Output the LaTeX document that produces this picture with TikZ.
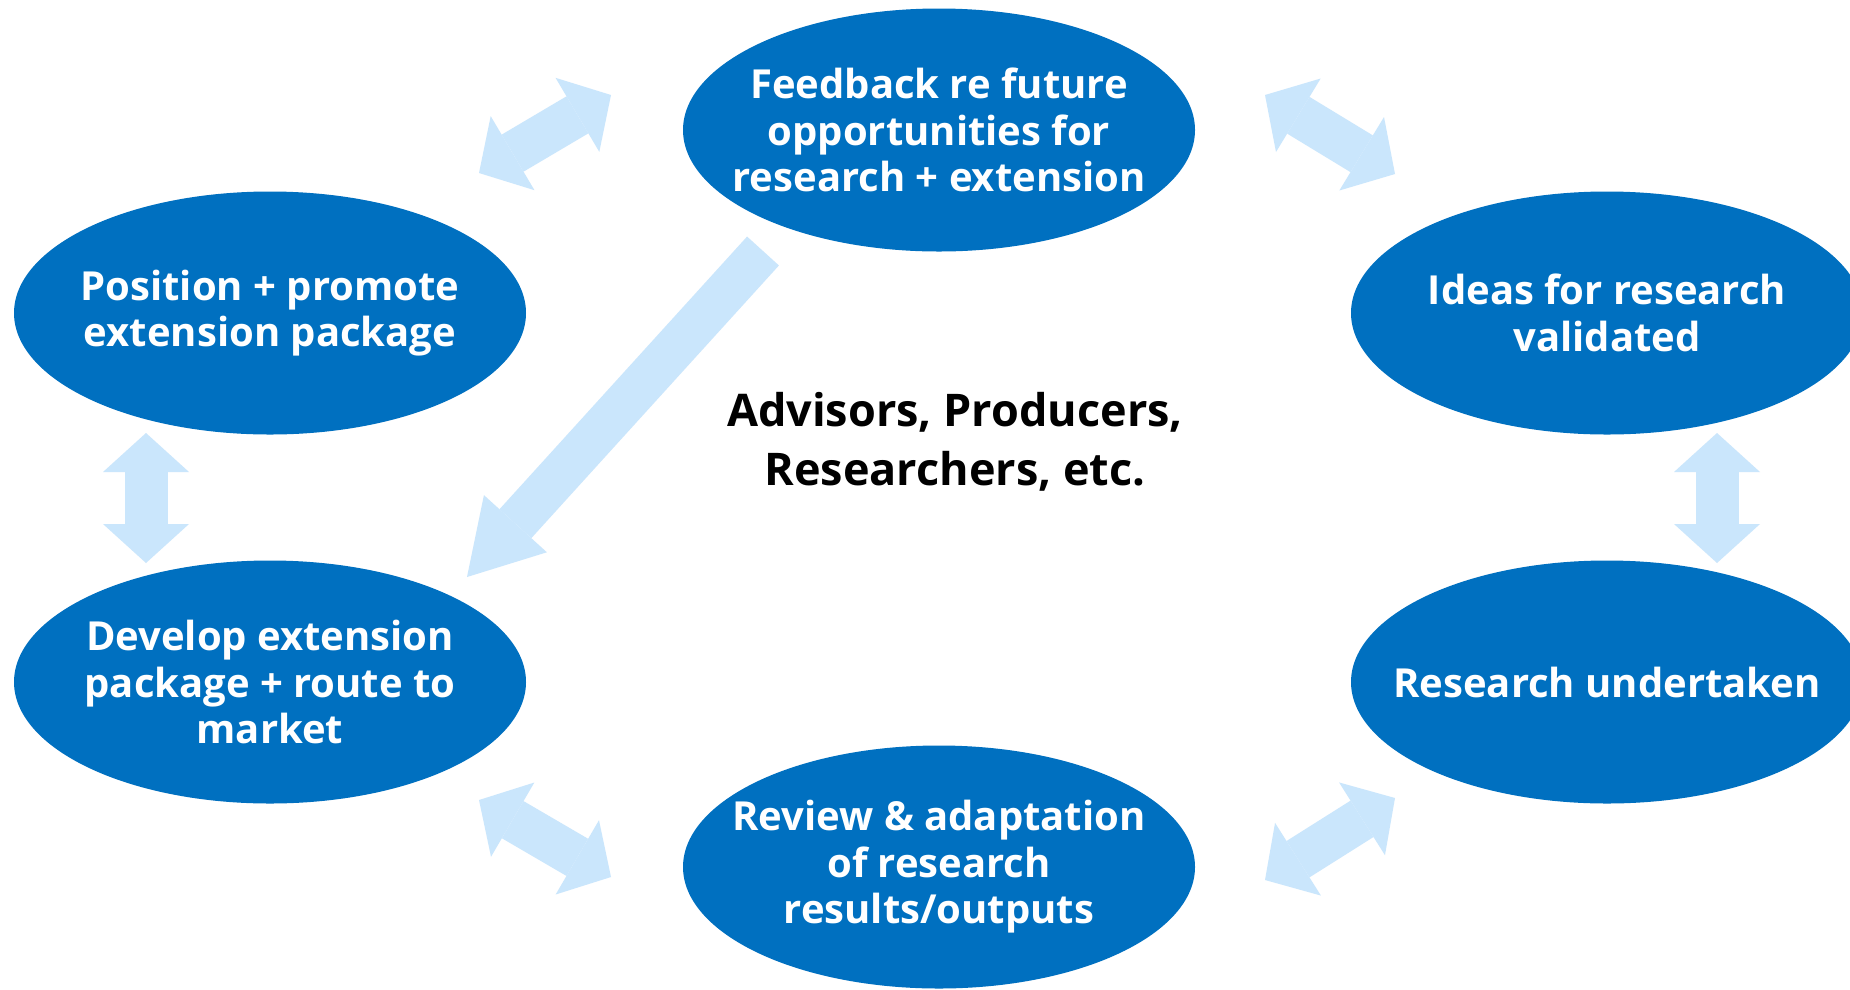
\documentclass[tikz,border=0pt]{standalone}
\usepackage{fontspec}
\setmainfont{Open Sans}
\usetikzlibrary{shapes.geometric,arrows.meta}
\definecolor{ellblue}{RGB}{0,112,192}
\definecolor{arrblue}{RGB}{202,230,252}
\begin{document}
\begin{tikzpicture}[x=1pt,y=-1pt,
  stage/.style={ellipse, fill=ellblue, draw=none, minimum width=512pt, minimum height=243pt,
    inner xsep=-60pt, inner ysep=0pt, text=white, font=\bfseries\fontsize{40}{46.5}\selectfont, align=center},
  dblarrow/.style={draw=arrblue, line width=43pt,
    {Triangle[length=39pt,width=86pt,line width=0pt]}-{Triangle[length=39pt,width=86pt,line width=0pt]}},
  bigarrow/.style={draw=arrblue, line width=43pt, -{Triangle[length=72pt,width=85pt,line width=0pt]}},
  hub/.style={font=\bfseries\fontsize{45}{59}\selectfont, align=center, text=black}]
\clip (0,0) rectangle (1850,989);
\fill[white] (0,0) rectangle (1850,989);

\node[stage] (fb)  at (939,130) {Feedback re future\\opportunities for\\research + extension};
\node[stage] (pos) at (270,313) {Position + promote\\extension package};
\node[stage] (ide) at (1607,313) {Ideas for research\\validated};
\node[stage] (dev) at (270,682) {Develop extension\\package + route to\\market};
\node[stage] (res) at (1607,682) {Research undertaken};
\node[stage] (rev) at (939,867) {Review \& adaptation\\of research\\results/outputs};
\node[hub] (hub) at (955,442) {Advisors, Producers,\\Researchers, etc.};

\coordinate (a1) at (479,173); \coordinate (a2) at (611,95);
\coordinate (b1) at (1265,95); \coordinate (b2) at (1395,174);
\coordinate (c1) at (146,433); \coordinate (c2) at (146,563);
\coordinate (d1) at (1717,433); \coordinate (d2) at (1717,563);
\coordinate (e1) at (479,800); \coordinate (e2) at (611,877);
\coordinate (f1) at (1395,798); \coordinate (f2) at (1265,880);
\coordinate (g1) at (763,251); \coordinate (g2) at (467,577);

\draw[dblarrow] (a1) -- (a2);
\draw[dblarrow] (b1) -- (b2);
\draw[dblarrow] (c1) -- (c2);
\draw[dblarrow] (d1) -- (d2);
\draw[dblarrow] (e1) -- (e2);
\draw[dblarrow] (f1) -- (f2);
\draw[bigarrow] (g1) -- (g2);
\end{tikzpicture}
\end{document}
